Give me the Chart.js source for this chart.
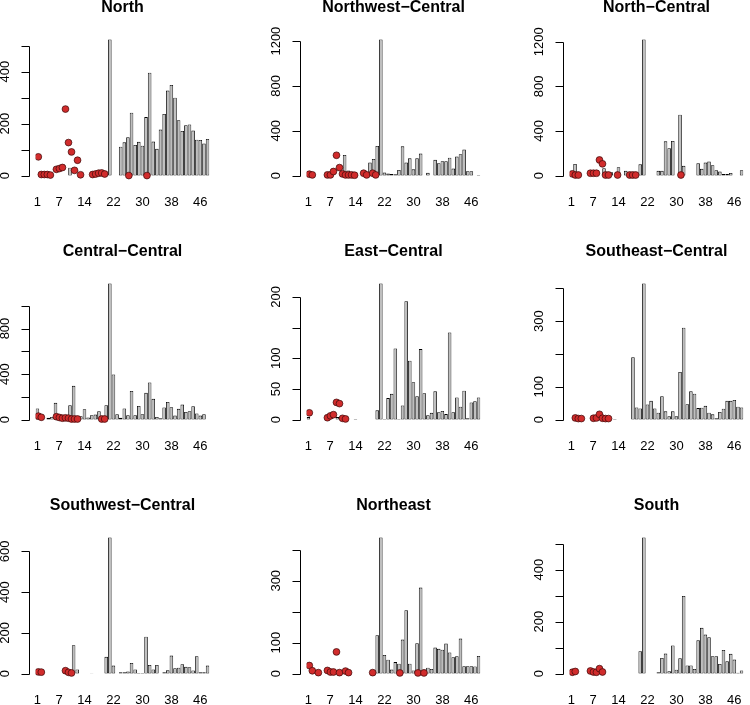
<!DOCTYPE html>
<html>
<head>
<meta charset="utf-8">
<script src="https://cdn.jsdelivr.net/npm/chart.js@4.4.0/dist/chart.umd.min.js"></script>
<style>
  html, body { margin: 0; padding: 0; background: #fff; }
  #page { position: relative; width: 750px; height: 705px; overflow: hidden; }
  #page canvas { position: absolute; }
</style>
</head>
<body>
<div id="page"></div>
<script>
// bar categories (R barplot names) and the ones R kept on the axis
const categories = ["1","2","3","4","5","6","7","8","9","10","11","12","13","14","15","16",
  "17","18","19","20","21","22","23","24","25","26","27","28","29","30","31","32",
  "33","34","35","36","37","38","39","40","41","42","43","44","45","46","47","48"];
const xTickLabels = ["1", "7", "14", "22", "30", "38", "46"];

const regions = ["North", "Northwest\u2212Central", "North\u2212Central",
  "Central\u2212Central", "East\u2212Central", "Southeast\u2212Central",
  "Southwest\u2212Central", "Northeast", "South"];

// bar heights per category, null = no bar
const northBars = [null,null,null,null,null,null,null,null,null,30,
  null,null,null,null,null,null,null,22,null,null,
  524,null,null,111,128,147,242,118,130,115,
  225,396,131,103,177,237,327,349,300,213,
  172,194,197,173,138,137,123,141];
const northwestBars = [null,null,null,null,null,null,null,null,null,null,
  184,45,30,null,null,null,null,116,148,264,
  1215,27,18,15,12,50,261,116,154,56,
  154,196,null,24,null,140,110,128,128,160,
  62,169,190,232,39,39,null,5];
const northCentralBars = [null,104,null,null,null,null,null,null,null,66,
  30,30,null,75,null,42,21,null,null,101,
  1220,null,null,null,42,42,307,245,310,null,
  546,87,null,null,null,110,60,116,125,93,
  48,36,15,15,24,null,null,48];
const centralBars = [97,47,null,15,23,147,29,38,35,126,
  296,23,29,91,18,38,44,73,23,126,
  1196,396,47,15,97,38,252,38,120,47,
  235,326,182,23,12,106,155,109,35,94,
  132,67,73,117,53,35,47,null];
const eastBars = [4,null,null,null,null,null,null,null,4,4,
  null,null,null,1,null,null,null,null,null,15,
  222,1,35,42,116,1,23,193,96,61,
  38,115,43,7,11,46,12,14,9,142,
  12,36,21,47,2,28,30,36];
const southeastBars = [null,null,null,null,null,null,null,null,null,null,
  null,null,2,null,null,null,null,190,37,34,
  415,46,57,34,21,71,25,10,25,10,
  145,280,47,86,79,35,36,42,21,16,
  4,23,33,57,57,60,39,37];
const southwestBars = [null,null,null,null,null,null,null,null,null,null,
  139,20,null,null,null,2,null,null,null,82,
  668,39,null,6,6,10,52,20,3,3,
  181,42,20,42,null,6,16,88,26,29,
  46,33,31,15,85,6,6,39];
const northeastBars = [null,null,null,null,null,null,null,null,null,null,
  null,null,null,null,null,null,null,null,null,124,
  440,60,45,13,37,32,110,205,32,10,
  98,278,13,19,15,84,80,77,97,68,
  53,56,113,24,24,24,23,57];
const southBars = [null,null,null,null,null,null,null,null,null,null,
  null,null,null,null,null,null,null,null,null,86,
  524,null,null,null,5,60,77,9,108,15,
  59,299,31,31,18,128,176,150,140,67,
  67,37,91,47,76,54,3,12];

// red points, by position 1..48, null = no point
const northPoints = [72,4,4,4,2,null,24,27,31,256,
  127,91,20,59,3,null,null,null,4,6,
  9,10,6,null,null,null,null,null,null,null,
  0,null,null,null,null,null,0,null,null,null,
  null,null,null,null,null,null,null,null];
const northwestPoints = [12,6,null,null,null,null,6,6,36,181,
  71,15,6,6,6,3,null,null,21,6,
  null,21,6,null,null,null,null,null,null,null,
  null,null,null,null,null,null,null,null,null,null,
  null,null,null,null,null,null,null,null];
const northCentralPoints = [15,5,5,null,null,null,21,21,21,140,
  105,5,5,null,null,5,null,null,null,5,
  5,5,null,null,null,null,null,null,null,null,
  null,null,null,null,null,null,5,null,null,null,
  null,null,null,null,null,null,null,null];
const centralPoints = [30,20,null,null,null,null,25,18,12,15,
  12,5,5,5,null,null,null,null,null,null,
  null,5,5,null,null,null,null,null,null,null,
  null,null,null,null,null,null,null,null,null,null,
  null,null,null,null,null,null,null,null];
const eastPoints = [11,null,null,null,null,null,3,6,8,28,
  26,2,1,null,null,null,null,null,null,null,
  null,null,null,null,null,null,null,null,null,null,
  null,null,null,null,null,null,null,null,null,null,
  null,null,null,null,null,null,null,null];
const southeastPoints = [null,5,3,3,null,null,null,4,5,16,
  4,3,3,null,null,null,null,null,null,null,
  null,null,null,null,null,null,null,null,null,null,
  null,null,null,null,null,null,null,null,null,null,
  null,null,null,null,null,null,null,null];
const southwestPoints = [8,7,null,null,null,null,null,null,null,14,
  6,3,null,null,null,null,null,null,null,null,
  null,null,null,null,null,null,null,null,null,null,
  null,null,null,null,null,null,null,null,null,null,
  null,null,null,null,null,null,null,null];
const northeastPoints = [26,9,null,3,null,null,10,5,5,70,
  3,null,8,3,null,null,null,null,null,null,
  null,3,null,null,null,null,null,null,null,null,
  2,null,null,null,null,null,2,null,2,null,
  null,null,null,null,null,null,null,null];
const southPoints = [5,8,null,null,null,null,10,6,5,19,
  6,null,null,null,null,null,null,null,null,null,
  null,null,null,null,null,null,null,null,null,null,
  null,null,null,null,null,null,null,null,null,null,
  null,null,null,null,null,null,null,null];

// y axis: tick step, last tick, and the labels R managed to print
const yTickStep = [100, 200, 200, 200, 50, 100, 100, 100, 100];
const yTickTop = [500, 1200, 1200, 1000, 200, 400, 600, 400, 500];
const yTickLabels = [[0,200,400], [0,400,800,1200], [0,400,800,1200], [0,400,800],
  [0,50,100,200], [0,100,300], [0,200,400,600], [0,100,300], [0,200,400]];

const panelBars = [northBars, northwestBars, northCentralBars, centralBars, eastBars,
  southeastBars, southwestBars, northeastBars, southBars];
const panelPoints = [northPoints, northwestPoints, northCentralPoints, centralPoints, eastPoints,
  southeastPoints, southwestPoints, northeastPoints, southPoints];

// layout of the 3x3 grid
const colLeft = [0, 271, 534];
const rowTop = [-10, 234, 488];
const W = 250, H = 250;
const plotLeft = 35.6, plotRight = 209.4, plotBottom = 191;
const usrLeft = -2.096;  // left edge of the R plot region, in barplot units
const family = "'Liberation Sans', Arial, sans-serif";
const tickFont = {family: family, size: 13};

const measure = document.createElement("canvas").getContext("2d");
measure.font = "13px 'Liberation Sans'";

// R style axis line: only from first to last tick, ticks pointing out
const rAxis = {
  id: "rAxis",
  afterDraw(chart) {
    const y = chart.scales.y;
    const ctx = chart.ctx;
    const ax = Math.round(chart.scales.xp.getPixelForValue(usrLeft)) + 0.5;
    const t = y.ticks;
    ctx.save();
    ctx.strokeStyle = "#000";
    ctx.lineWidth = 1;
    ctx.beginPath();
    ctx.moveTo(ax, Math.round(y.getPixelForValue(t[0].value)) + 0.5);
    ctx.lineTo(ax, Math.round(y.getPixelForValue(t[t.length - 1].value)) + 0.5);
    t.forEach(function (tk) {
      const py = Math.round(y.getPixelForValue(tk.value)) + 0.5;
      ctx.moveTo(ax, py);
      ctx.lineTo(ax - 8, py);
    });
    ctx.stroke();
    ctx.restore();
  }
};

const page = document.getElementById("page");

regions.forEach(function (name, p) {
  const cv = document.createElement("canvas");
  cv.width = W;
  cv.height = H;
  cv.style.width = W + "px";
  cv.style.height = H + "px";
  cv.style.left = colLeft[p % 3] + "px";
  cv.style.top = rowTop[Math.floor(p / 3)] + "px";
  page.appendChild(cv);

  const bars = panelBars[p];
  const pts = panelPoints[p]
    .map(function (v, k) { return v === null ? null : {x: k + 1, y: v}; })
    .filter(function (d) { return d !== null; });
  const maxBar = Math.max.apply(null, bars.filter(function (v) { return v !== null; }));
  const ticks = [];
  for (let v = 0; v <= yTickTop[p]; v += yTickStep[p]) ticks.push(v);
  const shown = yTickLabels[p];
  const widest = Math.max.apply(null, shown.map(function (v) { return measure.measureText(String(v)).width; }));

  new Chart(cv, {
    type: "bar",
    data: {
      labels: categories,
      datasets: [
        {
          type: "scatter",
          data: pts,
          xAxisID: "xp",
          order: 0,
          pointRadius: 3.4,
          backgroundColor: "#d12c2c",
          borderColor: "#3a0808",
          borderWidth: 0.7
        },
        {
          type: "bar",
          data: bars,
          xAxisID: "x",
          order: 1,
          grouped: false,
          backgroundColor: "#bebebe",
          borderColor: "#000",
          borderWidth: 0.85,
          borderSkipped: false,
          barPercentage: 0.98,
          categoryPercentage: 1
        }
      ]
    },
    options: {
      responsive: false,
      animation: false,
      events: [],
      layout: {padding: {left: 0, right: W - plotRight, top: 0, bottom: 0}},
      plugins: {
        legend: {display: false},
        tooltip: {enabled: false},
        title: {
          display: true,
          text: name,
          fullSize: false,
          color: "#000",
          font: {family: family, size: 16, weight: "bold"},
          padding: {top: 8, bottom: 16.8}
        }
      },
      scales: {
        x: {
          type: "category",
          offset: true,
          grid: {display: false, drawTicks: false},
          border: {display: false},
          ticks: {
            autoSkip: false,
            maxRotation: 0,
            minRotation: 0,
            padding: 14,
            color: "#000",
            font: tickFont,
            callback: function (v, i) {
              const l = categories[i];
              return xTickLabels.includes(l) ? l : "";
            }
          },
          afterFit: function (s) { s.height = H - plotBottom; }
        },
        // barplot coordinates (bar i centred at 1.2 i - 0.5), used for the points
        xp: {type: "linear", display: false, offset: false, min: 0.1, max: 57.7},
        y: {
          type: "linear",
          min: -0.04 * maxBar,
          max: 1.04 * maxBar,
          grid: {display: false, drawTicks: false},
          border: {display: false},
          afterBuildTicks: function (s) {
            s.ticks = ticks.map(function (v) { return {value: v}; });
          },
          afterFit: function (s) { s.width = plotLeft; },
          ticks: {
            minRotation: 90,
            maxRotation: 90,
            crossAlign: "center",
            padding: 30.6 - widest / 2,
            color: "#000",
            font: tickFont,
            callback: function (v) { return shown.includes(v) ? String(v) : ""; }
          }
        }
      }
    },
    plugins: [rAxis]
  });
});
</script>
</body>
</html>
